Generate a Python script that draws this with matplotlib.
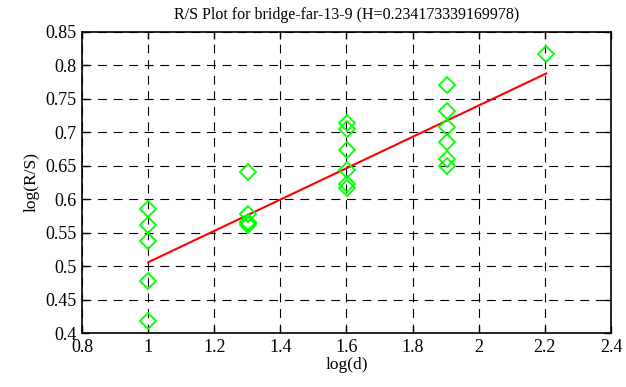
import numpy as np
import matplotlib
matplotlib.use("Agg")
import matplotlib.pyplot as plt

# log(d) values and the log(R/S) points measured at each d
log_d = [1.0] * 5 + [1.301] * 5 + [1.602] * 6 + [1.903] * 6 + [2.204]
log_rs = [0.585, 0.562, 0.538, 0.477, 0.418,
          0.640, 0.578, 0.566, 0.564, 0.562,
          0.713, 0.704, 0.673, 0.643, 0.622, 0.616,
          0.771, 0.732, 0.707, 0.685, 0.660, 0.649,
          0.817]

# fitted line: slope is the Hurst exponent from the title
H = 0.234173339169978
INTERCEPT = 0.2715

plt.rcParams['font.family'] = ['Liberation Serif', 'DejaVu Serif']

x = np.array(log_d)
y = np.array(log_rs)

fig = plt.figure(figsize=(6.26, 3.87), dpi=100)
ax = fig.add_axes([0.131, 0.1395, 0.845, 0.7785])

ax.plot(x, y, "D", mfc="none", mec="#00ff00", ms=8, mew=1.3, zorder=3)
xl = np.array([x.min(), x.max()])
ax.plot(xl, H * xl + INTERCEPT, color="red", lw=1.5, zorder=2)

ax.set_xlim(0.8, 2.4)
ax.set_ylim(0.4, 0.85)
ax.set_xticks(np.arange(0.8, 2.41, 0.2))
ax.set_yticks(np.arange(0.4, 0.851, 0.05))
ax.set_xticklabels(["0.8", "1", "1.2", "1.4", "1.6", "1.8", "2", "2.2", "2.4"])
ax.set_yticklabels(["0.4", "0.45", "0.5", "0.55", "0.6", "0.65", "0.7", "0.75", "0.8", "0.85"])
ax.grid(True, color="black", ls=(0, (8, 6)), lw=0.8)
ax.tick_params(direction="in", top=True, right=True, labelsize=13, length=5, width=1, pad=4)
for s in ax.spines.values():
    s.set_linewidth(1.2)

ax.set_xlabel("log(d)", fontsize=12.5, labelpad=1)
ax.set_ylabel("log(R/S)", fontsize=12.5, labelpad=4)
ax.set_title("R/S Plot for bridge-far-13-9 (H=0.234173339169978)", fontsize=11.5, pad=9)

fig.savefig("out.png", dpi=100)
